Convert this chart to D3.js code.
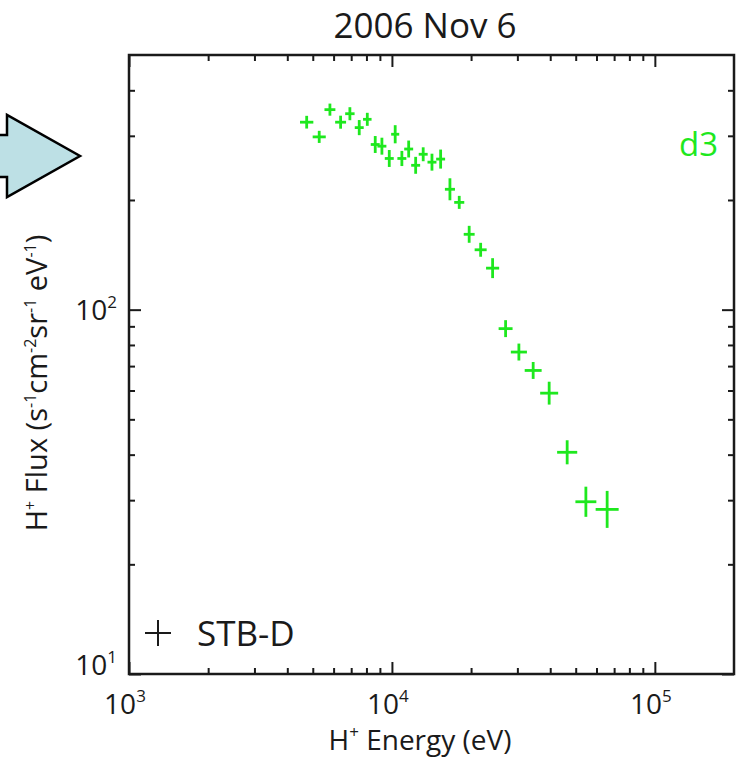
<!DOCTYPE html>
<html>
<head>
<meta charset="utf-8">
<script src="https://cdn.jsdelivr.net/npm/d3@7"></script>
<style>
body { margin: 0; background: #fff; }
svg { display: block; font-family: "Open Sans", sans-serif; }
</style>
</head>
<body>
<svg id="chart" width="740" height="758"></svg>
<script>
// H+ spectrum, values
var energy = [4740, 5290, 5810, 6380, 6920, 7510, 8060, 8640, 9160, 9770,
              10290, 10910, 11580, 12310, 13150, 14200, 15320, 16620, 18030, 19670,
              21750, 24150, 27060, 30400, 34450, 39630, 46400, 54660, 65850];
var flux = [327, 298, 354, 327, 345, 316, 333, 284, 281, 260,
            303, 260, 276, 249, 267, 254, 259, 214, 197, 161,
            146, 130, 88.7, 76.5, 68.1, 59.0, 40.6, 29.7, 28.3];
// relative half width of the energy bin
var energyErr = [0.060, 0.059, 0.049, 0.049, 0.042, 0.040, 0.038, 0.040, 0.040, 0.040,
                 0.036, 0.040, 0.040, 0.040, 0.040, 0.040, 0.040, 0.045, 0.045, 0.049,
                 0.054, 0.059, 0.063, 0.073, 0.077, 0.082, 0.092, 0.096, 0.106];
// relative flux error
var fluxErr = [0.041, 0.039, 0.039, 0.042, 0.042, 0.049, 0.042, 0.055, 0.055, 0.055,
               0.059, 0.049, 0.055, 0.055, 0.045, 0.055, 0.062, 0.072, 0.042, 0.055,
               0.045, 0.065, 0.055, 0.055, 0.055, 0.075, 0.079, 0.100, 0.124];

var xDecades = [3, 4, 5];
var yDecades = [1, 2];
var xMinor = [2e3, 3e3, 4e3, 5e3, 6e3, 7e3, 8e3, 9e3, 2e4, 3e4, 4e4, 5e4, 6e4, 7e4, 8e4, 9e4];
var yMinor = [20, 30, 40, 50, 60, 70, 80, 90, 200, 300, 400];

var title = '2006 Nov 6';
var seriesName = 'STB-D';
var panelName = 'd3';

var green = '#1ee81e';
var ink = '#1a1a1a';

// plot box (window.top is read-only, so keep these in one object)
var box = { left: 129, right: 734, top: 55, bottom: 674 };

var x = d3.scaleLog().domain([1e3, 2e5]).range([box.left, box.right]);
var y = d3.scaleLog().domain([10, 500]).range([box.bottom, box.top]);

var svg = d3.select('#chart');

// pointer arrow on the left edge
svg.append('path')
    .attr('d', 'M-5,135 L7,135 L7,115 L80,156 L7,197 L7,177 L-5,177 Z')
    .attr('fill', '#bde0e5')
    .attr('stroke', '#000')
    .attr('stroke-width', 2.5)
    .attr('stroke-linejoin', 'miter');

// ticks on all four sides, pointing inward
function ticks(axis, tx, ty, values, size) {
    var g = svg.append('g')
        .attr('transform', 'translate(' + tx + ',' + ty + ')')
        .call(axis.tickValues(values).tickSize(-size).tickFormat(''));
    g.select('.domain').remove();
    g.selectAll('line').attr('stroke', ink).attr('stroke-width', 2);
}
var xMajor = xDecades.map(function(d) { return Math.pow(10, d); });
var yMajor = yDecades.map(function(d) { return Math.pow(10, d); });

ticks(d3.axisBottom(x), 0, box.bottom, xMinor, 6);
ticks(d3.axisBottom(x), 0, box.bottom, xMajor, 12);
ticks(d3.axisTop(x), 0, box.top, xMinor, 6);
ticks(d3.axisTop(x), 0, box.top, xMajor, 12);
ticks(d3.axisLeft(y), box.left, 0, yMinor, 6);
ticks(d3.axisLeft(y), box.left, 0, yMajor, 12);
ticks(d3.axisRight(y), box.right, 0, yMinor, 6);
ticks(d3.axisRight(y), box.right, 0, yMajor, 12);

// frame
svg.append('rect')
    .attr('x', box.left).attr('y', box.top)
    .attr('width', box.right - box.left).attr('height', box.bottom - box.top)
    .attr('fill', 'none')
    .attr('stroke', ink)
    .attr('stroke-width', 2.5);

// tick labels
xDecades.forEach(function(d) {
    var t = svg.append('text')
        .attr('x', x(Math.pow(10, d)) - 4)
        .attr('y', 714)
        .attr('text-anchor', 'middle')
        .style('font-size', '28px')
        .attr('fill', ink)
        .text('10');
    t.append('tspan').attr('dy', -12).style('font-size', '17px').text(d);
});
yDecades.forEach(function(d) {
    var t = svg.append('text')
        .attr('x', 117)
        .attr('y', Math.min(y(Math.pow(10, d)) + 10, 675))
        .attr('text-anchor', 'end')
        .style('font-size', '28px')
        .attr('fill', ink)
        .text('10');
    t.append('tspan').attr('dy', -12).style('font-size', '17px').text(d);
});

// title
svg.append('text')
    .attr('x', 425).attr('y', 38)
    .attr('text-anchor', 'middle')
    .style('font-size', '35px')
    .attr('fill', ink)
    .text(title);

// x axis title
var xt = svg.append('text')
    .attr('x', 420).attr('y', 750)
    .attr('text-anchor', 'middle')
    .style('font-size', '28px')
    .attr('fill', ink);
xt.append('tspan').text('H');
xt.append('tspan').attr('dy', -12).style('font-size', '17px').text('+');
xt.append('tspan').attr('dy', 12).text(' Energy (eV)');

// y axis title
var yt = svg.append('text')
    .attr('transform', 'translate(47,383) rotate(-90)')
    .attr('text-anchor', 'middle')
    .style('font-size', '29px')
    .attr('fill', ink);
[['H', ''], ['+', 'sup'], [' Flux (s', ''], ['-1', 'sup'], ['cm', ''], ['-2', 'sup'],
 ['sr', ''], ['-1', 'sup'], [' eV', ''], ['-1', 'sup'], [')', '']].forEach(function(p, i, arr) {
    var prevSup = i > 0 && arr[i - 1][1] === 'sup';
    var ts = yt.append('tspan').text(p[0]);
    if (p[1] === 'sup') ts.attr('dy', -11).style('font-size', '16px');
    else if (prevSup) ts.attr('dy', 11);
});

// data: energy bin and flux error drawn as a cross
var pts = svg.append('g').attr('class', 'points')
    .attr('stroke', green).attr('stroke-width', 2.8);
energy.forEach(function(e, i) {
    var f = flux[i];
    pts.append('line')
        .attr('x1', x(e / (1 + energyErr[i]))).attr('x2', x(e * (1 + energyErr[i])))
        .attr('y1', y(f)).attr('y2', y(f));
    pts.append('line')
        .attr('x1', x(e)).attr('x2', x(e))
        .attr('y1', y(f / (1 + fluxErr[i]))).attr('y2', y(f * (1 + fluxErr[i])));
});

// panel tag
svg.append('text')
    .attr('x', 679).attr('y', 156)
    .style('font-size', '33px')
    .attr('fill', green)
    .text(panelName);

// legend
svg.append('line')
    .attr('x1', 145).attr('x2', 171).attr('y1', 633).attr('y2', 633)
    .attr('stroke', ink).attr('stroke-width', 2);
svg.append('line')
    .attr('x1', 158).attr('x2', 158).attr('y1', 620).attr('y2', 646)
    .attr('stroke', ink).attr('stroke-width', 2);
svg.append('text')
    .attr('x', 197).attr('y', 646)
    .style('font-size', '35px')
    .attr('fill', ink)
    .text(seriesName);
</script>
</body>
</html>
